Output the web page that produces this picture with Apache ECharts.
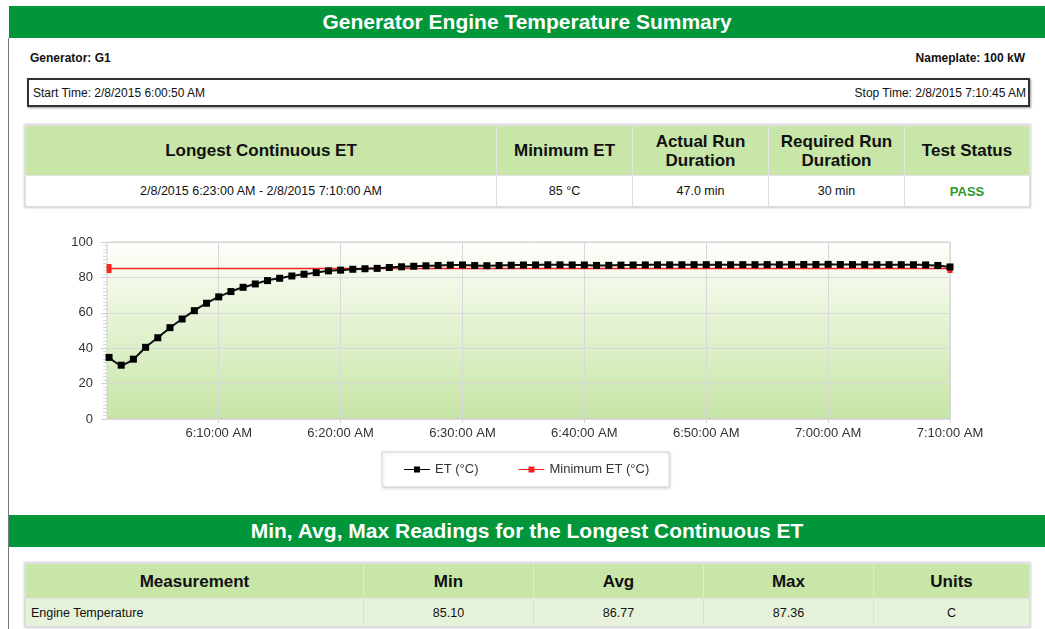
<!DOCTYPE html>
<html>
<head>
<meta charset="utf-8">
<script src="https://cdn.jsdelivr.net/npm/echarts@6/dist/echarts.min.js"></script>
<style>
  body { margin: 0; width: 1045px; height: 629px; overflow: hidden; background: #fff;
         font-family: "Liberation Sans", Arial, sans-serif; color: #111; position: relative; }
  .page-edge { position: absolute; left: 8px; top: 38px; width: 1px; height: 600px; background: #777; }
  .bar { position: absolute; left: 9px; width: 1036px; background: #009639; color: #fff;
         font-weight: bold; font-size: 21px; text-align: center; }
  .info { position: absolute; font-size: 12px; }
  .timebox { position: absolute; left: 27px; top: 78px; width: 999px; height: 25px;
             border: 2px solid #333; box-shadow: 1px 1px 2px #999; font-size: 12px; }
  table { position: absolute; border-collapse: collapse; box-shadow: 0 0 2px 1px #ccc; }
  th { background: #c8e6a8; font-size: 17px; font-weight: bold; border: 1px solid #e4e4e4; line-height: 19px; }
  td { font-size: 12.5px; border: 1px solid #ddd; text-align: center; }
  #chart { position: absolute; left: 0; top: 220px; width: 1045px; height: 280px; }
</style>
</head>
<body>
<div class="page-edge"></div>
<div class="bar" style="top:6px;height:32px;line-height:32px;">Generator Engine Temperature Summary</div>
<div class="info" style="left:30px;top:51px;font-weight:bold;">Generator: G1</div>
<div class="info" style="right:20px;top:51px;font-weight:bold;">Nameplate: 100 kW</div>
<div class="timebox">
  <span style="position:absolute;left:4px;top:6px;">Start Time: 2/8/2015 6:00:50 AM</span>
  <span style="position:absolute;right:2px;top:6px;">Stop Time: 2/8/2015 7:10:45 AM</span>
</div>

<table style="left:25px;top:125px;width:1005px;">
  <tr style="height:50px;">
    <th style="width:468px;">Longest Continuous ET</th>
    <th style="width:133px;">Minimum ET</th>
    <th style="width:133px;">Actual Run<br>Duration</th>
    <th style="width:133px;">Required Run<br>Duration</th>
    <th>Test Status</th>
  </tr>
  <tr style="height:31px;background:#fff;">
    <td>2/8/2015 6:23:00 AM - 2/8/2015 7:10:00 AM</td>
    <td>85 °C</td>
    <td>47.0 min</td>
    <td>30 min</td>
    <td style="color:#2c9a2c;font-weight:bold;font-size:13px;">PASS</td>
  </tr>
</table>

<div id="chart"></div>

<div class="bar" style="top:515px;height:32px;line-height:32px;">Min, Avg, Max Readings for the Longest Continuous ET</div>

<table style="left:25px;top:563px;width:1005px;">
  <tr style="height:35px;">
    <th style="width:335px;">Measurement</th>
    <th style="width:167px;">Min</th>
    <th style="width:167px;">Avg</th>
    <th style="width:167px;">Max</th>
    <th>Units</th>
  </tr>
  <tr style="height:28px;background:#e6f2da;">
    <td style="text-align:left;padding-left:5px;">Engine Temperature</td>
    <td>85.10</td>
    <td>86.77</td>
    <td>87.36</td>
    <td>C</td>
  </tr>
</table>

<script>
// 采样时间 (每分钟一个读数)
const times = [
  '6:01', '6:02', '6:03', '6:04', '6:05', '6:06', '6:07', '6:08', '6:09', '6:10',
  '6:11', '6:12', '6:13', '6:14', '6:15', '6:16', '6:17', '6:18', '6:19', '6:20',
  '6:21', '6:22', '6:23', '6:24', '6:25', '6:26', '6:27', '6:28', '6:29', '6:30',
  '6:31', '6:32', '6:33', '6:34', '6:35', '6:36', '6:37', '6:38', '6:39', '6:40',
  '6:41', '6:42', '6:43', '6:44', '6:45', '6:46', '6:47', '6:48', '6:49', '6:50',
  '6:51', '6:52', '6:53', '6:54', '6:55', '6:56', '6:57', '6:58', '6:59', '7:00',
  '7:01', '7:02', '7:03', '7:04', '7:05', '7:06', '7:07', '7:08', '7:09', '7:10'
];

// ET (°C)
const etValues = [
  34.8, 30.4, 33.8, 40.5, 45.9, 51.6, 56.5, 61.2, 65.4, 69.0,
  72.0, 74.4, 76.3, 78.2, 79.5, 80.8, 81.8, 82.7, 83.7, 84.1,
  84.6, 84.9, 85.1, 85.6, 86.0, 86.3, 86.55, 86.75, 86.95, 87.05,
  86.7, 86.6, 86.75, 86.9, 87.0, 87.05, 87.1, 87.1, 87.05, 87.0,
  86.75, 86.8, 86.95, 87.0, 87.05, 87.1, 87.1, 87.15, 87.2, 87.2,
  87.15, 87.15, 87.2, 87.2, 87.25, 87.2, 87.25, 87.3, 87.3, 87.36,
  87.3, 87.25, 87.25, 87.2, 87.2, 87.2, 87.15, 87.05, 86.75, 85.9
];

const minET = 85;
const axisStart = '6:00:50';
const axisEnd = '7:10:00';
const xTicks = ['6:10', '6:20', '6:30', '6:40', '6:50', '7:00', '7:10'];

// 'h:mm[:ss]' -> 分钟
function toMin(t) {
    const p = t.split(':').map(Number);
    return p[0] * 60 + p[1] + (p[2] || 0) / 60;
}

function fmtTime(v) {
    const h = Math.floor(v / 60);
    const m = Math.round(v - h * 60);
    return h + ':' + String(m).padStart(2, '0') + ':00 AM';
}

const etData = times.map((t, i) => [toMin(t), etValues[i]]);
const minData = [[toMin(times[0]), minET], [toMin(times[times.length - 1]), minET]];
const tickValues = xTicks.map(toMin);

const chart = echarts.init(document.getElementById('chart'));

const option = {
    animation: false,
    textStyle: { fontFamily: 'Liberation Sans, Arial, sans-serif' },
    grid: {
        left: 107,
        right: 95,
        top: 22,
        bottom: 81,
        show: true,
        borderColor: '#cfcfcf',
        borderWidth: 1,
        backgroundColor: {
            type: 'linear', x: 0, y: 0, x2: 0, y2: 1,
            colorStops: [
                { offset: 0, color: '#fefefb' },
                { offset: 1, color: '#c6e5a5' }
            ]
        }
    },
    legend: {
        left: 382,
        top: 232,
        padding: [11, 20, 11, 22],
        itemGap: 40,
        itemWidth: 26,
        itemHeight: 6,
        borderColor: '#d6d6d6',
        borderWidth: 1,
        shadowColor: 'rgba(0,0,0,0.15)',
        shadowBlur: 3,
        shadowOffsetX: 1,
        shadowOffsetY: 1,
        backgroundColor: '#fff',
        textStyle: { color: '#333', fontSize: 13 },
        data: [
            { name: 'ET (°C)', icon: 'path://M0,2.4H10V0H16V2.4H26V3.6H16V6H10V3.6H0Z' },
            { name: 'Minimum ET (°C)', icon: 'path://M0,2.4H10V0H16V2.4H26V3.6H16V6H10V3.6H0Z' }
        ]
    },
    xAxis: {
        type: 'value',
        min: toMin(axisStart),
        max: toMin(axisEnd),
        axisLine: { show: false },
        axisTick: { show: true, length: 4, customValues: tickValues, lineStyle: { color: '#d5d5d5' } },
        axisLabel: {
            customValues: tickValues,
            color: '#333',
            fontSize: 13,
            margin: 8,
            formatter: fmtTime
        },
        splitLine: { show: true, lineStyle: { color: '#d9d9d9', width: 1 } }
    },
    yAxis: {
        type: 'value',
        min: 0,
        max: 100,
        interval: 20,
        axisLine: { show: false },
        axisTick: { show: true, length: 6, lineStyle: { color: '#d0d0d0' } },
        minorTick: { show: true, splitNumber: 10, length: 4, lineStyle: { color: '#d8d8d8' } },
        axisLabel: { color: '#333', fontSize: 13, margin: 14 },
        splitLine: { show: true, lineStyle: { color: '#d9d9d9', width: 1 } }
    },
    series: [
        {
            name: 'Minimum ET (°C)',
            type: 'line',
            data: minData,
            z: 2,
            symbol: 'rect',
            symbolSize: [5, 9],
            color: '#ff2020',
            lineStyle: { color: '#ff2020', width: 1.5 },
            itemStyle: { color: '#ff2020' }
        },
        {
            name: 'ET (°C)',
            type: 'line',
            data: etData,
            z: 3,
            smooth: 0.2,
            symbol: 'rect',
            symbolSize: 7,
            color: '#000',
            lineStyle: { color: '#111', width: 2 },
            itemStyle: { color: '#000' }
        }
    ]
};

chart.setOption(option);

window.addEventListener('resize', () => {
    chart.resize();
});
</script>
</body>
</html>
